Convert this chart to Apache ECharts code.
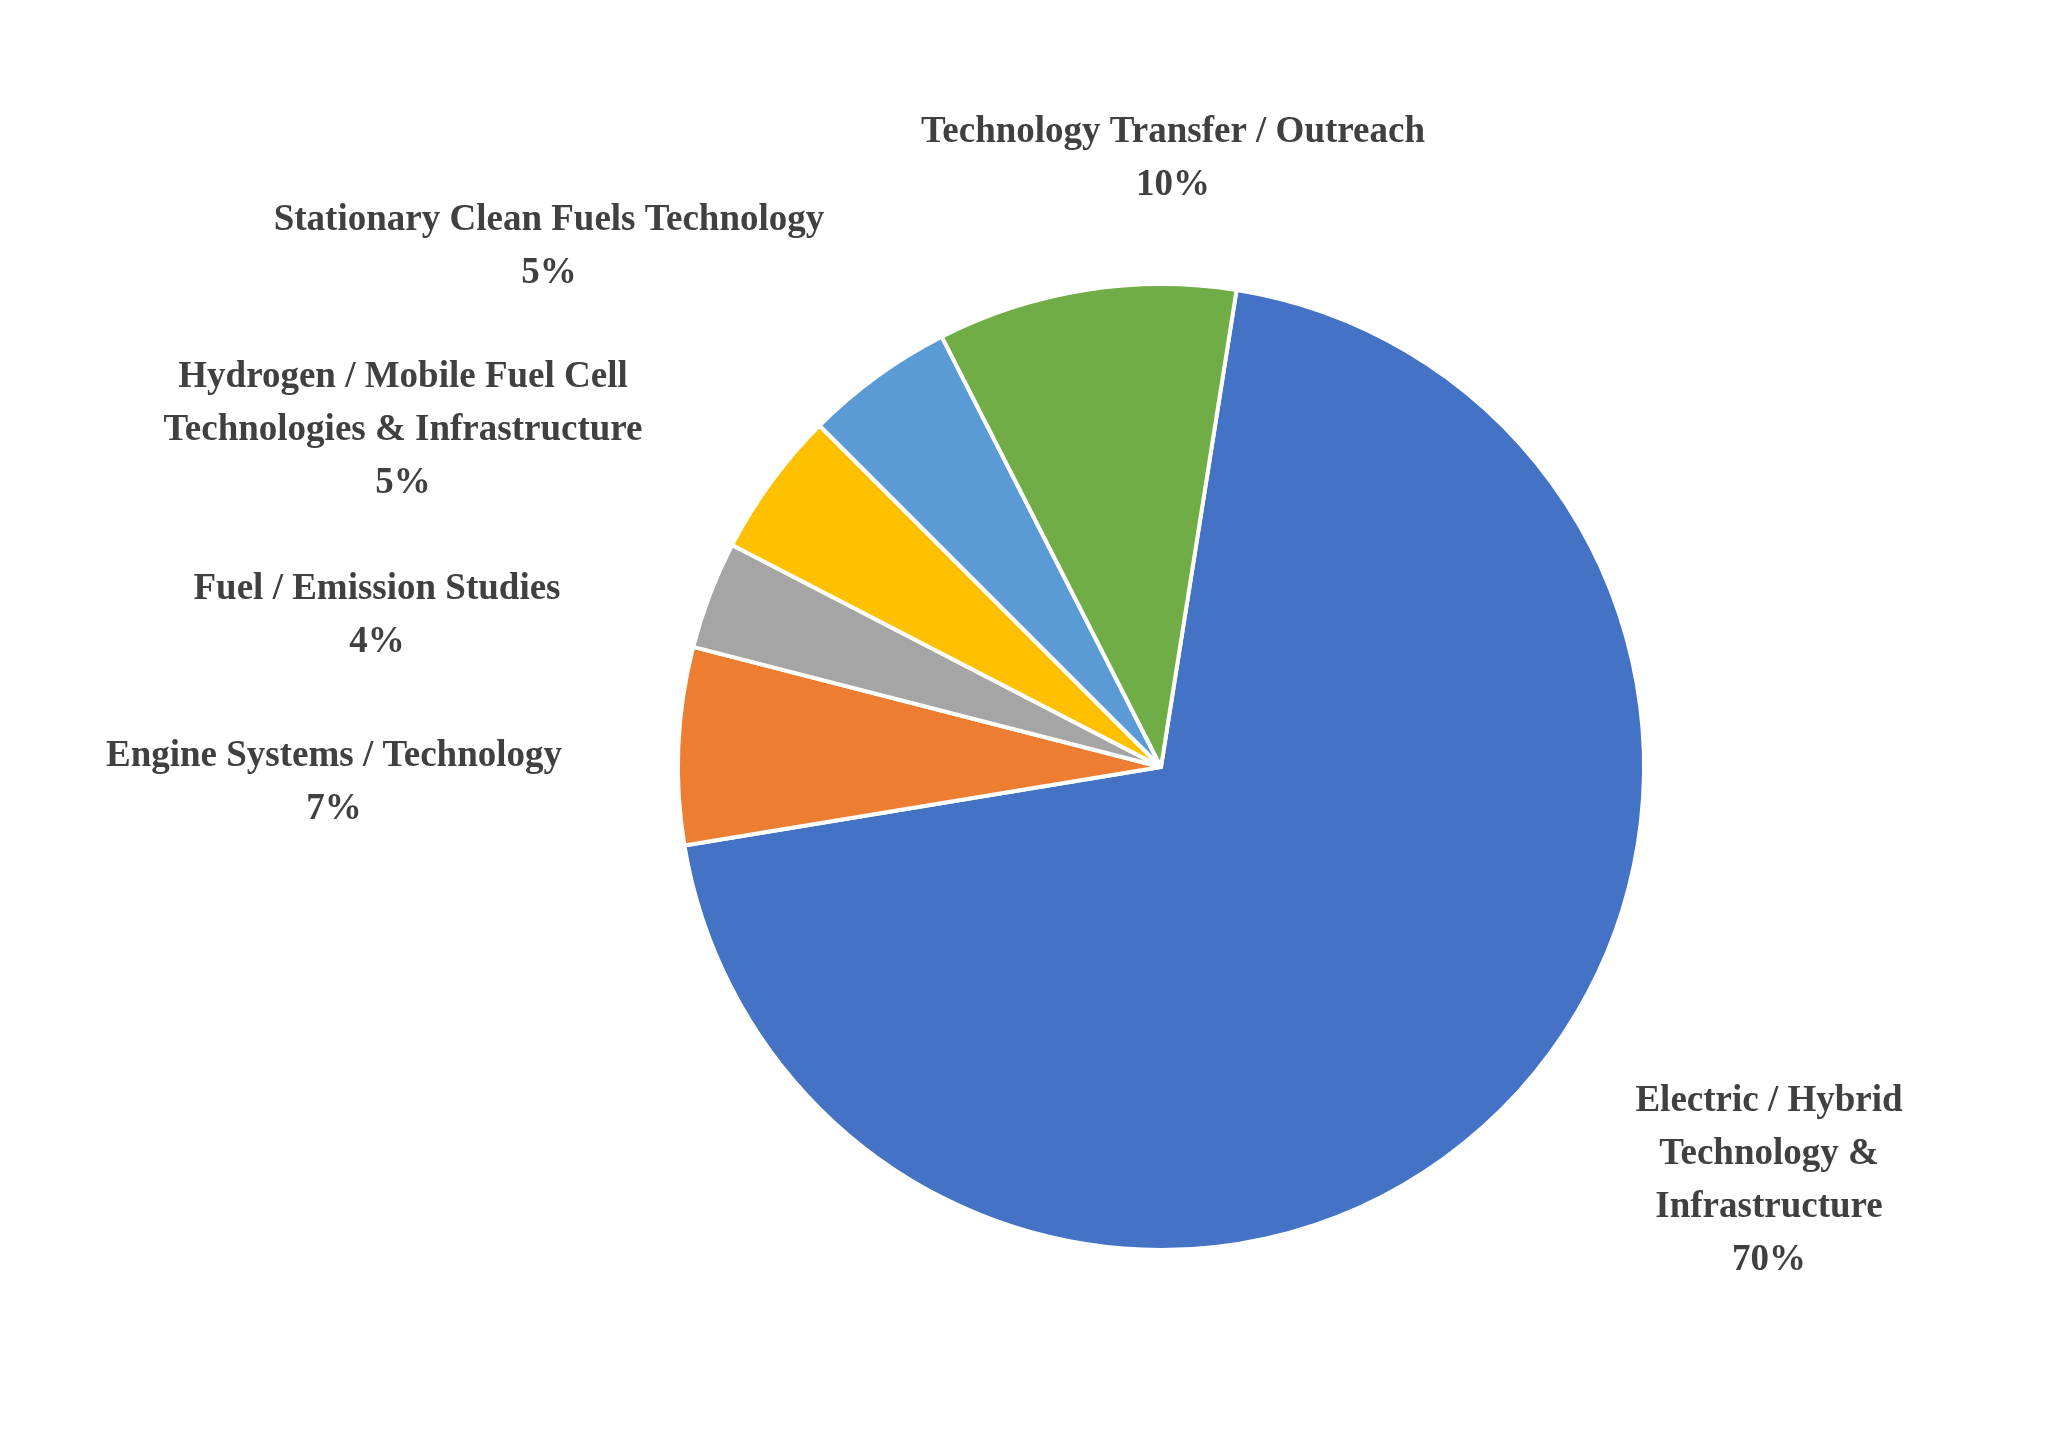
<!DOCTYPE html>
<html><head><meta charset="utf-8">
<script src="https://cdn.jsdelivr.net/npm/echarts@6/dist/echarts.min.js"></script>
<style>html,body{margin:0;background:#fff}#c{width:2062px;height:1432px}</style>
</head><body><div id="c"></div>
<script>
var names = ['Electric / Hybrid\nTechnology &\nInfrastructure', 'Engine Systems / Technology', 'Fuel / Emission Studies',
  'Hydrogen / Mobile Fuel Cell\nTechnologies & Infrastructure', 'Stationary Clean Fuels Technology', 'Technology Transfer / Outreach'];
var values = [69.9, 6.6, 3.6, 4.9, 5.0, 10.0];
var pctLabels = ['70%', '7%', '4%', '5%', '5%', '10%'];
var colors = ['#4472C4', '#ED7D31', '#A5A5A5', '#FFC000', '#5B9BD5', '#70AD47'];
// label centres
var labelPos = [[1769,1181],[334,783],[377,616],[403,430],[549,247],[1173,159]];

var chart = echarts.init(document.getElementById('c'));
chart.setOption({
  animation: false,
  series: [{
    type: 'pie',
    center: [1161, 767],
    radius: [0, 483],
    startAngle: 81,
    clockwise: true,
    data: values.map(function(v,i){return {name: names[i], value: v, itemStyle: {color: colors[i]}};}),
    itemStyle: {borderColor: '#fff', borderWidth: 4},
    labelLine: {show: false},
    label: {
      show: true, position: 'outside',
      formatter: function(p){ return p.name + '\n' + pctLabels[p.dataIndex]; },
      fontFamily: 'Liberation Serif', fontWeight: 'bold', fontSize: 37,
      lineHeight: 53, color: '#404040', align: 'center'
    },
    labelLayout: function(p){
      var c = labelPos[p.dataIndex];
      return {x: c[0], y: c[1], align: 'center', verticalAlign: 'middle'};
    }
  }]
});
</script></body></html>
